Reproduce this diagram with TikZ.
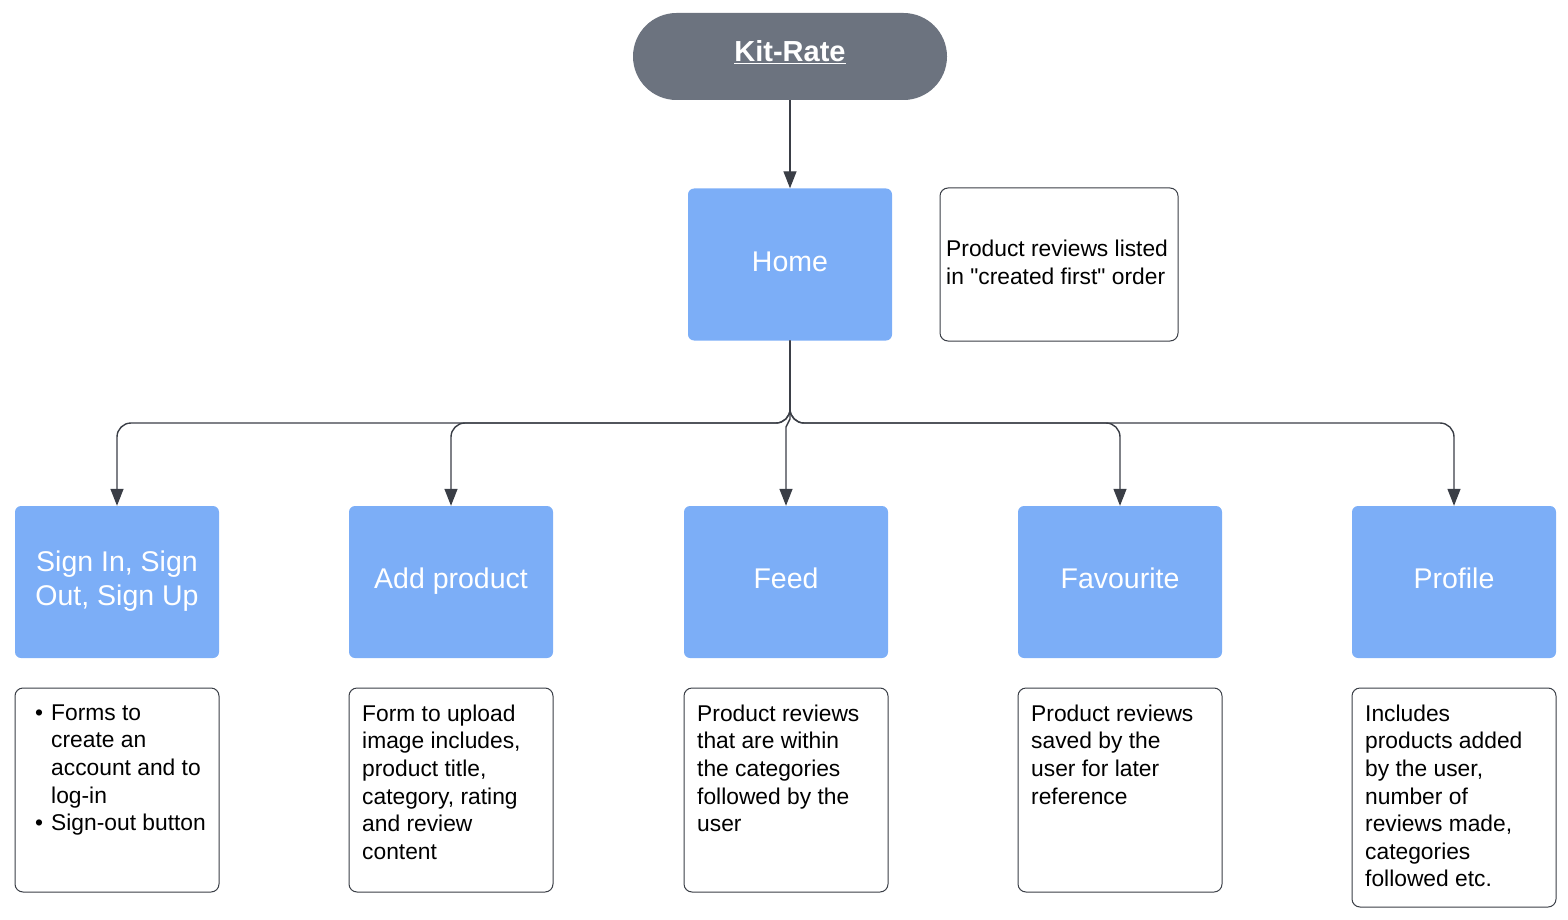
\documentclass[tikz,border=0pt]{standalone}
\usepackage{fontspec}
\setmainfont{Liberation Sans}[Ligatures=TeXOff]
\usetikzlibrary{arrows.meta}
\definecolor{bluebox}{RGB}{124,174,247}
\definecolor{graybox}{RGB}{108,115,127}
\definecolor{linec}{RGB}{58,62,70}
\begin{document}
\begin{tikzpicture}[x=1pt,y=-1pt,
  bbox/.style={fill=bluebox, rounded corners=6pt, minimum width=204pt, minimum height=152pt, inner sep=0pt},
  blabel/.style={inner sep=0pt, text=white, font=\fontsize{28.5}{34}\selectfont, align=center, anchor=base},
  notebox/.style={draw=linec, line width=1pt, rounded corners=8pt, fill=white, minimum width=204pt, inner sep=0pt},
  desctext/.style={inner sep=0pt, font=\fontsize{22.8}{27.6}\selectfont, align=left, text=black, anchor=north west},
  conn/.style={draw=linec, line width=1.4pt, -{Triangle[length=17pt,width=13pt]}}]
\useasboundingbox (0,0) rectangle (1568,920);

% title
\node[fill=graybox, rounded corners=43.5pt, minimum width=314pt, minimum height=87pt, inner sep=0pt] (kit) at (790,56.5) {};
\node[blabel, font=\fontsize{29}{34}\selectfont\bfseries] (kitt) at (790,61.5) {\underline{Kit-Rate}};

% home and note
\node[bbox] (home) at (790,264.5) {};
\node[blabel] (homet) at (790,271) {Home};
\node[notebox, minimum width=238pt, minimum height=153pt] (note) at (1059,264.5) {};
\node[desctext] (notet) at (946,240) {Product reviews listed\\in "created first" order};

% children
\node[bbox] (c1) at (117,582) {};
\node[bbox] (c2) at (451,582) {};
\node[bbox] (c3) at (786,582) {};
\node[bbox] (c4) at (1120,582) {};
\node[bbox] (c5) at (1454,582) {};
\node[blabel] (c1t) at (117,605) {Sign In, Sign\\Out, Sign Up};
\node[blabel] (c2t) at (451,588) {Add product};
\node[blabel] (c3t) at (786,588) {Feed};
\node[blabel] (c4t) at (1120,588) {Favourite};
\node[blabel] (c5t) at (1454,588) {Profile};

% description boxes
\node[notebox, minimum height=204pt] (d1) at (117,790) {};
\node[notebox, minimum height=204pt] (d2) at (451,790) {};
\node[notebox, minimum height=204pt] (d3) at (786,790) {};
\node[notebox, minimum height=204pt] (d4) at (1120,790) {};
\node[notebox, minimum height=219pt] (d5) at (1454,797.5) {};

\node[desctext] (t1) at (35,704.5) {\makebox[16pt][l]{•}Forms to\\\hspace*{16pt}create an\\\hspace*{16pt}account and to\\\hspace*{16pt}log-in\\\makebox[16pt][l]{•}Sign-out button};
\node[desctext] (t2) at (362,704.5) {Form to upload\\image includes,\\product title,\\category, rating\\and review\\content};
\node[desctext] (t3) at (697,704.5) {Product reviews\\that are within\\the categories\\followed by the\\user};
\node[desctext] (t4) at (1031,704.5) {Product reviews\\saved by the\\user for later\\reference};
\node[desctext] (t5) at (1365,704.5) {Includes\\products added\\by the user,\\number of\\reviews made,\\categories\\followed etc.};

% connectors
\draw[conn] (kit.south) -- (home.north);
\draw[conn, rounded corners=14pt] (home.south) -- (790,423) -| (c1.north);
\draw[conn, rounded corners=14pt] (home.south) -- (790,423) -| (c2.north);
\draw[conn, rounded corners=14pt] (home.south) -- (790,423) -| (c4.north);
\draw[conn, rounded corners=14pt] (home.south) -- (790,423) -| (c5.north);
\draw[conn] (home.south) -- (790,419) -- (786,427) -- (c3.north);
\end{tikzpicture}
\end{document}
